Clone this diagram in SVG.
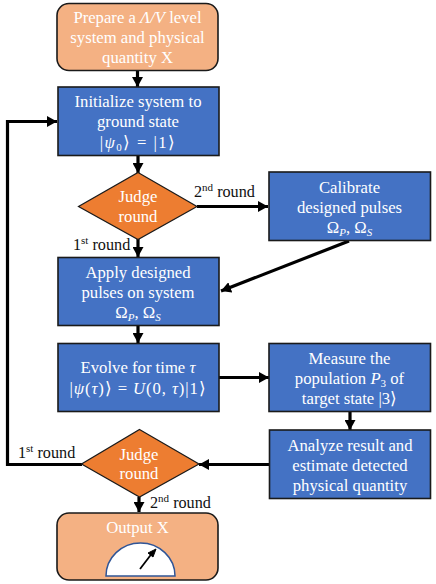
<svg xmlns="http://www.w3.org/2000/svg" width="436" height="584" viewBox="0 0 436 584">
<style>
text{font-family:"Liberation Serif","Times New Roman",serif;font-size:16.7px;text-anchor:middle;fill:#fff}
.k{fill:#111;text-anchor:start;font-size:16.2px}
.m{font-style:italic}
.s{font-size:11px}
.box{fill:#4472c4;stroke:#1a1a1a;stroke-width:1.6}
.org{fill:#f4b183;stroke:#1a1a1a;stroke-width:1.6}
.dia{fill:#ed7d31;stroke:#1a1a1a;stroke-width:1.2}
.l{fill:none;stroke:#000;stroke-width:3.2}
</style>
<defs>
<marker id="a" markerUnits="userSpaceOnUse" markerWidth="11" markerHeight="11" refX="10" refY="5.500" orient="auto"><path d="M0 0L10 5.500L0 11Z" fill="#000"/></marker>
</defs>
<g id="connectors">
<path class="l" d="M137.500 71V87" marker-end="url(#a)"/>
<path class="l" d="M138 156V173" marker-end="url(#a)"/>
<path class="l" d="M197 206.500H268" marker-end="url(#a)"/>
<path class="l" d="M138 239V257" marker-end="url(#a)"/>
<path class="l" d="M349 241L221 291" marker-end="url(#a)"/>
<path class="l" d="M138 326V343" marker-end="url(#a)"/>
<path class="l" d="M219 377.500H269" marker-end="url(#a)"/>
<path class="l" d="M350 412V430" marker-end="url(#a)"/>
<path class="l" d="M270 464.500H199" marker-end="url(#a)"/>
<path class="l" d="M82 464.500H7.500V121.500H57" marker-end="url(#a)"/>
<path class="l" d="M139 497V512" marker-end="url(#a)"/>
</g>
<g id="n1"><rect class="org" x="57" y="3.500" width="161" height="67" rx="12"/>
<text x="137.500" y="23">Prepare a <tspan class="m">Λ/V</tspan> level</text><text x="137.500" y="43">system and physical</text><text x="137.500" y="63">quantity X</text></g>
<g id="n2"><rect class="box" x="58" y="87" width="161" height="68.500"/>
<text x="138" y="107">Initialize system to</text><text x="138" y="127">ground state</text><text x="138" y="148" letter-spacing="1.400">|<tspan class="m">ψ</tspan><tspan class="s" dy="3">0</tspan><tspan dy="-3">⟩ = |1⟩</tspan></text></g>
<g id="n3"><polygon class="dia" points="138,172.500 197,206.500 138,239.500 78.500,206.500"/>
<text x="138" y="202">Judge</text><text x="138" y="222">round</text></g>
<g id="n4"><rect class="box" x="269" y="172" width="161.500" height="68.500"/>
<text x="349.500" y="193">Calibrate</text><text x="349.500" y="213">designed pulses</text><text x="349.500" y="233">Ω<tspan class="m s" dy="3">P</tspan><tspan dy="-3">, Ω</tspan><tspan class="m s" dy="3">S</tspan></text></g>
<g id="n5"><rect class="box" x="58" y="257.500" width="161" height="68"/>
<text x="138" y="278">Apply designed</text><text x="138" y="298">pulses on system</text><text x="138" y="318">Ω<tspan class="m s" dy="3">P</tspan><tspan dy="-3">, Ω</tspan><tspan class="m s" dy="3">S</tspan></text></g>
<g id="n6"><rect class="box" x="58" y="343.500" width="161" height="68"/>
<text x="138" y="373">Evolve for time <tspan class="m">τ</tspan></text><text x="138" y="394" letter-spacing="0.900">|<tspan class="m">ψ</tspan>(<tspan class="m">τ</tspan>)⟩ = <tspan class="m">U</tspan>(0, <tspan class="m">τ</tspan>)|1⟩</text></g>
<g id="n7"><rect class="box" x="269" y="343.500" width="161.500" height="68"/>
<text x="349.500" y="364">Measure the</text><text x="349.500" y="384">population <tspan class="m">P</tspan><tspan class="s" dy="3">3</tspan><tspan dy="-3"> of</tspan></text><text x="349.500" y="404">target state |3⟩</text></g>
<g id="n8"><rect class="box" x="269.500" y="430" width="161" height="68.500"/>
<text x="350" y="451">Analyze result and</text><text x="350" y="471">estimate detected</text><text x="350" y="491">physical quantity</text></g>
<g id="n9"><polygon class="dia" points="139.500,429.500 199,464 139.500,497 81.500,464"/>
<text x="139" y="460">Judge</text><text x="139" y="479">round</text></g>
<g id="n10"><rect class="org" x="57" y="513" width="161" height="67" rx="12"/>
<text x="137.500" y="533">Output X</text>
<path d="M106 576A34.500 33 0 0 1 175 576Z" fill="#fff" stroke="#2f5597" stroke-width="1.5"/>
<path d="M140 569L153 552" fill="none" stroke="#000" stroke-width="1.800"/><path d="M156 549L153 557L148 553Z" fill="#000" stroke="#000"/></g>
<g id="labels">
<text class="k" x="194" y="197">2<tspan class="s" dy="-6">nd</tspan><tspan dy="6"> round</tspan></text>
<text class="k" x="73" y="250">1<tspan class="s" dy="-6">st</tspan><tspan dy="6"> round</tspan></text>
<text class="k" x="18" y="458">1<tspan class="s" dy="-6">st</tspan><tspan dy="6"> round</tspan></text>
<text class="k" x="150" y="508">2<tspan class="s" dy="-6">nd</tspan><tspan dy="6"> round</tspan></text>
</g>
</svg>
